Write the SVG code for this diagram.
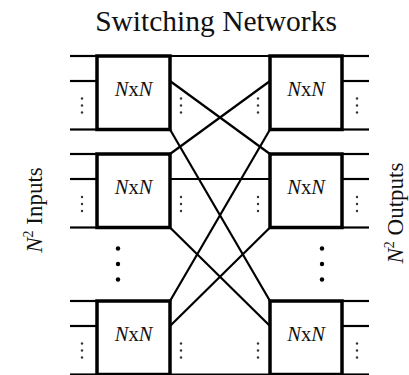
<svg xmlns="http://www.w3.org/2000/svg" width="409" height="375" viewBox="0 0 409 375">
<style>
.box{fill:#fff;stroke:#000;stroke-width:3.5}
.ln{stroke:#000;stroke-width:2.2;fill:none}
.lbl{font-family:"Liberation Serif","Times New Roman",serif;font-size:20.5px;fill:#111;text-anchor:middle}
.it{font-style:italic}
.title{font-family:"Liberation Serif","Times New Roman",serif;font-size:29.5px;fill:#111;text-anchor:middle}
.side{font-family:"Liberation Serif","Times New Roman",serif;font-size:23px;fill:#111;text-anchor:middle}
.sd{fill:#333}
.bd{fill:#000}
</style>
<defs>
<g id="vd"><circle cx="0" cy="0" r="1.2"/><circle cx="0" cy="7" r="1.2"/><circle cx="0" cy="14" r="1.2"/></g>
</defs>
<text class="title" x="216" y="31">Switching Networks</text>
<text class="side" transform="translate(42,210) rotate(-90)"><tspan class="it">N</tspan><tspan font-size="14" dy="-9">2</tspan><tspan dy="9"> Inputs</tspan></text>
<text class="side" transform="translate(403,213) rotate(-90)"><tspan class="it">N</tspan><tspan font-size="14" dy="-9">2</tspan><tspan dy="9"> Outputs</tspan></text>
<g id="connectors">
<line class="ln" x1="170" y1="56" x2="270" y2="56"/>
<line class="ln" x1="170" y1="81" x2="270" y2="154"/>
<line class="ln" x1="170" y1="129.5" x2="270" y2="301"/>
<line class="ln" x1="170" y1="154" x2="270" y2="81"/>
<line class="ln" x1="170" y1="179" x2="270" y2="179"/>
<line class="ln" x1="170" y1="227.5" x2="270" y2="326"/>
<line class="ln" x1="170" y1="301" x2="270" y2="129.5"/>
<line class="ln" x1="170" y1="326" x2="270" y2="227.5"/>
<line class="ln" x1="170" y1="374.5" x2="270" y2="374.5"/>
<line class="ln" x1="70" y1="56" x2="97" y2="56"/>
<line class="ln" x1="70" y1="81" x2="97" y2="81"/>
<line class="ln" x1="70" y1="129.5" x2="97" y2="129.5"/>
<line class="ln" x1="70" y1="154" x2="97" y2="154"/>
<line class="ln" x1="70" y1="179" x2="97" y2="179"/>
<line class="ln" x1="70" y1="227.5" x2="97" y2="227.5"/>
<line class="ln" x1="70" y1="301" x2="97" y2="301"/>
<line class="ln" x1="70" y1="326" x2="97" y2="326"/>
<line class="ln" x1="70" y1="374.5" x2="97" y2="374.5"/>
<line class="ln" x1="342" y1="56" x2="369" y2="56"/>
<line class="ln" x1="342" y1="81" x2="369" y2="81"/>
<line class="ln" x1="342" y1="129.5" x2="369" y2="129.5"/>
<line class="ln" x1="342" y1="154" x2="369" y2="154"/>
<line class="ln" x1="342" y1="179" x2="369" y2="179"/>
<line class="ln" x1="342" y1="227.5" x2="369" y2="227.5"/>
<line class="ln" x1="342" y1="301" x2="369" y2="301"/>
<line class="ln" x1="342" y1="326" x2="369" y2="326"/>
<line class="ln" x1="342" y1="374.5" x2="369" y2="374.5"/>
</g>
<g id="L1"><rect class="box" x="97" y="56" width="73" height="73.5"/><text class="lbl" x="133.5" y="96"><tspan class="it">N</tspan>x<tspan class="it">N</tspan></text></g>
<g id="L2"><rect class="box" x="97" y="154" width="73" height="73.5"/><text class="lbl" x="133.5" y="194"><tspan class="it">N</tspan>x<tspan class="it">N</tspan></text></g>
<g id="L3"><rect class="box" x="97" y="301" width="73" height="73.5"/><text class="lbl" x="133.5" y="341"><tspan class="it">N</tspan>x<tspan class="it">N</tspan></text></g>
<g id="R1"><rect class="box" x="270" y="56" width="72" height="73.5"/><text class="lbl" x="306" y="96"><tspan class="it">N</tspan>x<tspan class="it">N</tspan></text></g>
<g id="R2"><rect class="box" x="270" y="154" width="72" height="73.5"/><text class="lbl" x="306" y="194"><tspan class="it">N</tspan>x<tspan class="it">N</tspan></text></g>
<g id="R3"><rect class="box" x="270" y="301" width="72" height="73.5"/><text class="lbl" x="306" y="341"><tspan class="it">N</tspan>x<tspan class="it">N</tspan></text></g>
<g id="dots" class="sd">
<use href="#vd" x="82" y="98.5"/><use href="#vd" x="181" y="98.5"/><use href="#vd" x="258" y="98.5"/><use href="#vd" x="357" y="98.5"/>
<use href="#vd" x="82" y="197"/><use href="#vd" x="181" y="197"/><use href="#vd" x="258" y="197"/><use href="#vd" x="357" y="197"/>
<use href="#vd" x="82" y="343.5"/><use href="#vd" x="181" y="343.5"/><use href="#vd" x="258" y="343.5"/><use href="#vd" x="357" y="343.5"/>
</g>
<g id="bigdots" class="bd">
<circle cx="118" cy="248.5" r="2.2"/><circle cx="118" cy="264" r="2.2"/><circle cx="118" cy="279.5" r="2.2"/>
<circle cx="322" cy="248.5" r="2.2"/><circle cx="322" cy="264" r="2.2"/><circle cx="322" cy="279.5" r="2.2"/>
</g>
</svg>
